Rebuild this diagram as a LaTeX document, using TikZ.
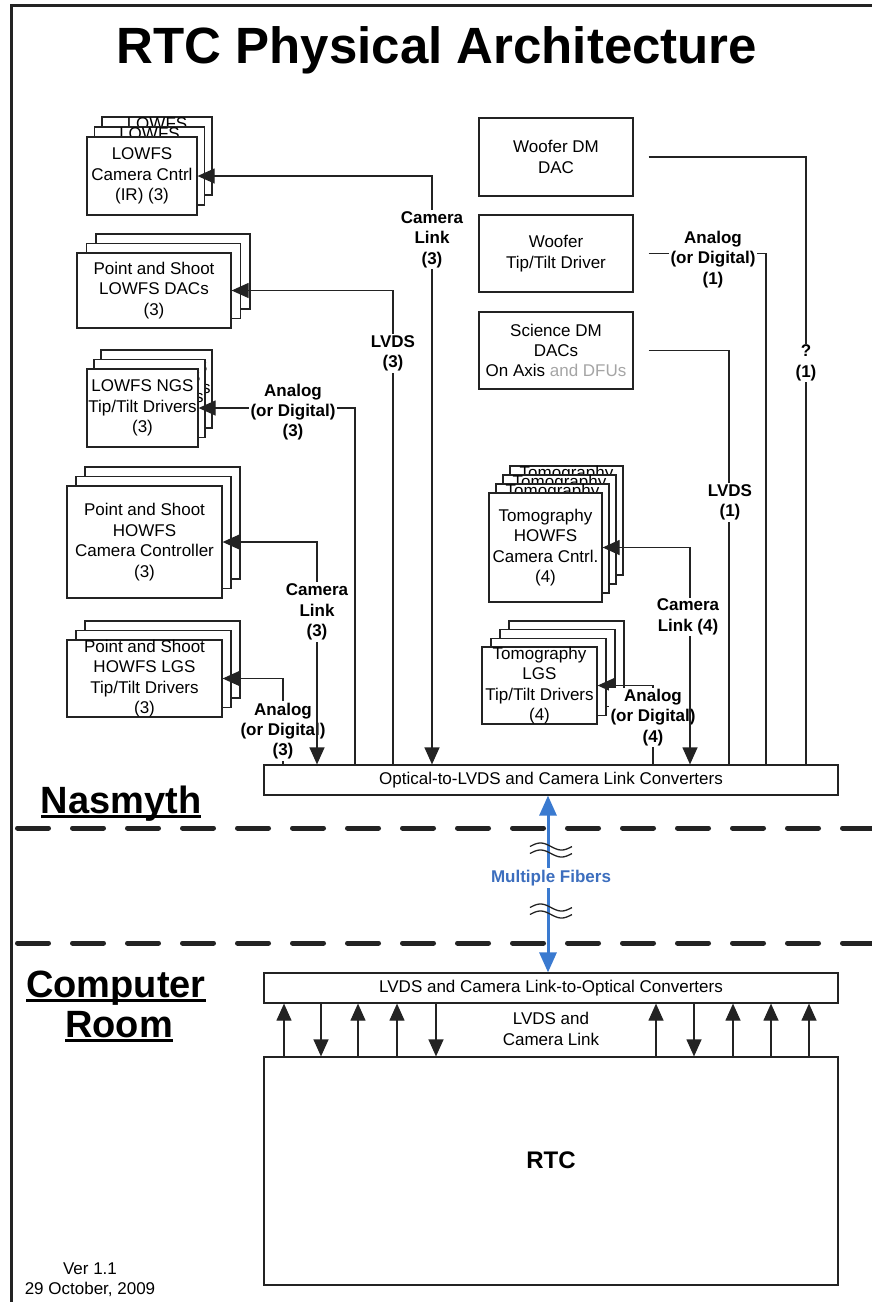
\documentclass[tikz,border=0pt]{standalone}
\usepackage{fontspec}
\setmainfont{Liberation Sans}
\usetikzlibrary{arrows.meta,calc}

\definecolor{ink}{RGB}{35,35,35}
\definecolor{fiber}{RGB}{58,122,208}
\definecolor{fibertext}{RGB}{60,110,190}
\definecolor{faded}{RGB}{165,165,165}

\tikzset{
  >={Triangle[length=17pt,width=15pt]},
  box/.style={draw=ink, line width=1.2pt, fill=white, inner sep=0pt},
  txt/.style={font=\fontsize{17}{20.4}\selectfont, align=center, inner sep=0pt},
  lbl/.style={font=\fontsize{17}{20.4}\selectfont\bfseries, align=center, fill=white, inner sep=1.5pt},
  wire/.style={draw=ink, line width=1.2pt},
  zone/.style={font=\fontsize{38}{44}\selectfont\bfseries, inner sep=0pt, anchor=base},
  divider/.style={draw=ink, line width=5pt, line cap=round, dash pattern=on 31pt off 24pt},
  fiberline/.style={draw=fiber, line width=3pt},
  wave/.style={draw=ink, line width=1.3pt},
}

% a pile of identical boxes; copies behind are shifted by (dx,dy)
% #1 name, #2 cx, #3 cy, #4 width, #5 height, #6 copies behind, #7 dx, #8 dy
\newcommand\backtext{}
\newcommand\backanchor{center}
\newcommand\backshift{0}
\newcommand\stackbox[8]{%
  \foreach \k in {#6,...,1}{%
    \node[box, minimum width=#4pt, minimum height=#5pt] (#1-\k) at ({#2+\k*(#7)},{#3+\k*(#8)}) {};
    \node[txt, anchor=\backanchor] at ([yshift=\backshift pt]#1-\k.\backanchor) {\backtext};
  }%
  \node[box, minimum width=#4pt, minimum height=#5pt] (#1) at (#2,#3) {};
}

\begin{document}
\begin{tikzpicture}[x=1pt,y=-1pt]
\useasboundingbox (0,0) rectangle (872,1302);

% frame and title
\draw[ink, line width=3pt] (11,1302) -- (11,5) -- (872,5);
\node[font=\fontsize{51}{60}\selectfont\bfseries, anchor=base, inner sep=0pt] (title) at (437,63) {RTC Physical Architecture};

% ---- left column of equipment piles
\renewcommand\backtext{LOWFS}\renewcommand\backanchor{north}\renewcommand\backshift{-1}
\stackbox{A}{142}{176}{110}{78}{2}{7.5}{-10}
\node[txt] at (A) {LOWFS\\Camera Cntrl\\(IR) (3)};

\renewcommand\backtext{}\renewcommand\backanchor{center}\renewcommand\backshift{0}
\stackbox{B}{154}{290.5}{154}{75}{2}{9.5}{-9.5}
\node[txt] at (B) {Point and Shoot\\LOWFS DACs\\(3)};

\renewcommand\backtext{LOWFS NGS\\Tip/Tilt Drivers\\(3)}
\stackbox{C}{142.5}{408}{111}{78}{2}{7}{-9.5}
\node[txt] at (C) {LOWFS NGS\\Tip/Tilt Drivers\\(3)};

\renewcommand\backtext{}
\stackbox{D}{144.5}{542}{155}{112}{2}{9}{-9.5}
\node[txt] at (D) {Point and Shoot\\HOWFS\\Camera Controller\\(3)};

\stackbox{E}{144.5}{678.5}{155}{77}{2}{9}{-9.5}
\node[txt] at (E) {Point and Shoot\\HOWFS LGS\\Tip/Tilt Drivers\\(3)};

% ---- right column
\node[box, minimum width=154pt, minimum height=78pt] (F) at (556,157) {};
\node[txt] at (F) {Woofer DM\\DAC};
\node[box, minimum width=154pt, minimum height=77pt] (G) at (556,253.5) {};
\node[txt] at (G) {Woofer\\Tip/Tilt Driver};
\node[box, minimum width=154pt, minimum height=77pt] (H) at (556,350.5) {};
\node[txt] at (H) {Science DM\\DACs\\On Axis {\color{faded}and DFUs}};

\renewcommand\backtext{Tomography}\renewcommand\backanchor{north}\renewcommand\backshift{-1}
\stackbox{I}{545.5}{547.5}{113}{109}{3}{7}{-9}
\node[txt] at (I) {Tomography\\HOWFS\\Camera Cntrl.\\(4)};

\renewcommand\backtext{}\renewcommand\backanchor{center}\renewcommand\backshift{0}
\stackbox{J}{539.5}{685.5}{115}{77}{3}{9}{-8.7}
\node[txt] at (J) {Tomography\\LGS\\Tip/Tilt Drivers\\(4)};

% ---- converters and RTC
\node[box, minimum width=574pt, minimum height=30pt] (K) at (551,780) {};
\node[txt] at (K) {Optical-to-LVDS and Camera Link Converters};
\node[box, minimum width=574pt, minimum height=30pt] (L) at (551,988) {};
\node[txt] at (L) {LVDS and Camera Link-to-Optical Converters};
\node[box, minimum width=574pt, minimum height=228pt] (M) at (551,1171) {};
\node[font=\fontsize{24}{28}\selectfont\bfseries, inner sep=0pt] (rtc) at (551,1160) {RTC};

% ---- links between the equipment and the Nasmyth converters
\draw[wire] ([xshift=15pt]F.east) -| (K.north -| 806,0);
\node[lbl] at (806,363) {?\\(1)};
\draw[wire] ([xshift=15pt]G.east) -| (K.north -| 766,0);
\node[lbl] at (713,259.5) {Analog\\(or Digital)\\(1)};
\draw[wire] ([xshift=15pt]H.east) -| (K.north -| 729,0);
\node[lbl] at (730,502.5) {LVDS\\(1)};

\draw[wire,->] (K.north -| 653,0) |- (J.east);
\node[lbl] at (653,717.5) {Analog\\(or Digital)\\(4)};
\draw[wire,<->] (K.north -| 690,0) |- (I.east);
\node[lbl] at (688,617) {Camera\\Link (4)};

\draw[wire,<->] (K.north -| 432,0) |- (A.east);
\node[lbl] at (432,239.5) {Camera\\Link\\(3)};
\draw[wire,->] (K.north -| 393,0) |- (B.east);
\node[lbl] at (393,353.5) {LVDS\\(3)};
\draw[wire,->] (K.north -| 355,0) |- (C.east);
\node[lbl] at (293,412) {Analog\\(or Digital)\\(3)};
\draw[wire,->] (K.north -| 283,0) |- (E.east);
\node[lbl] at (283,731) {Analog\\(or Digital)\\(3)};
\draw[wire,<->] (K.north -| 317,0) |- (D.east);
\node[lbl] at (317,612) {Camera\\Link\\(3)};

% ---- zone dividers and names
\draw[divider] (17.5,828) -- (872,828);
\draw[divider] (17.5,943) -- (872,943);

\node[zone] (nas) at (121,813) {Nasmyth};
\fill[black] ([yshift=-2pt]nas.base west) rectangle ([yshift=-5pt]nas.base east);
\node[zone] (comp) at (116,997) {Computer};
\fill[black] ([yshift=-2pt]comp.base west) rectangle ([yshift=-5pt]comp.base east);
\node[zone] (room) at (119,1037) {Room};
\fill[black] ([yshift=-2pt]room.base west) rectangle ([yshift=-5pt]room.base east);

% ---- fibre run between the rooms
\draw[fiberline, {Triangle[length=20pt,width=17pt]}-{Triangle[length=20pt,width=17pt]}]
  (K.south -| 548,0) -- (L.north -| 548,0);
\node[font=\fontsize{17}{20.4}\selectfont\bfseries, text=fibertext, fill=white, inner sep=2pt] (mf) at (551,878) {Multiple Fibers};
\foreach \yy in {850,911}{
  \draw[wave] plot[domain=0:1, samples=30, smooth] ({530+42*\x}, {\yy-3.5-3.5*sin(360*\x)});
  \draw[wave] plot[domain=0:1, samples=30, smooth] ({530+42*\x}, {\yy+3.5-3.5*sin(360*\x)});
}

% ---- computer room links
\foreach \x in {284,358,397,656,733,771,809}
  \draw[wire,->] (M.north -| \x,0) -- (L.south -| \x,0);
\foreach \x in {321,436,694}
  \draw[wire,->] (L.south -| \x,0) -- (M.north -| \x,0);
\node[txt] (cl) at (551,1029) {LVDS and\\Camera Link};

% ---- version stamp
\node[txt] (ver) at (90,1280) {Ver 1.1\\29 October, 2009};
\end{tikzpicture}
\end{document}
